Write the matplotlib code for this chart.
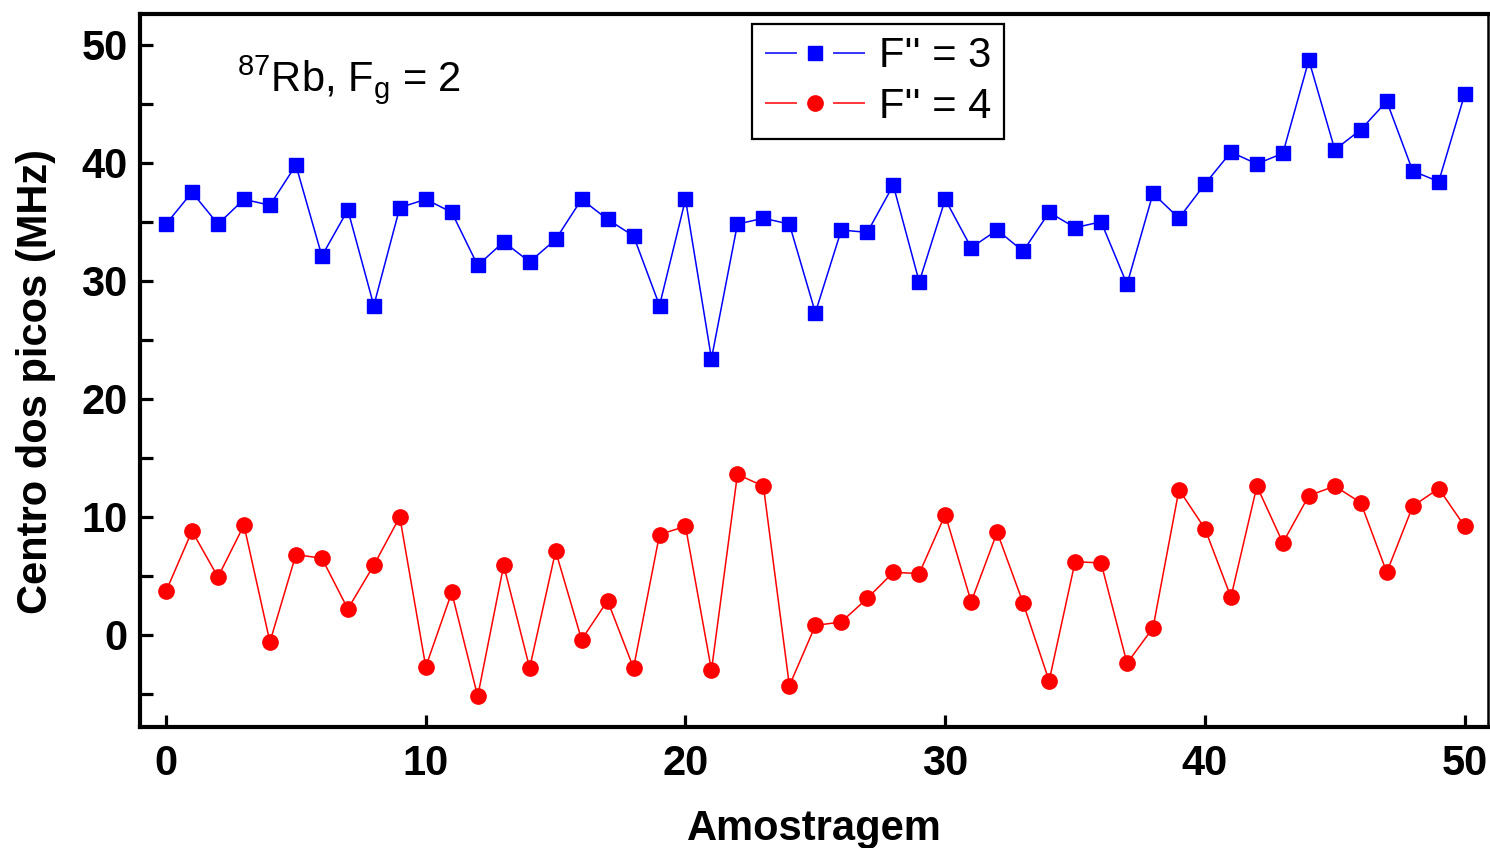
import matplotlib
matplotlib.use("Agg")
import matplotlib.pyplot as plt
from matplotlib.lines import Line2D
from matplotlib.ticker import MultipleLocator

# ----------------------------------------------------------------------------
# Data
# ----------------------------------------------------------------------------
amostragem = list(range(51))

f3 = [34.8, 37.5, 34.8, 36.9, 36.4, 39.8, 32.1, 36.0, 27.9, 36.2,
      36.9, 35.8, 31.3, 33.3, 31.6, 33.5, 36.9, 35.2, 33.8, 27.9,
      36.9, 23.4, 34.8, 35.3, 34.8, 27.3, 34.3, 34.1, 38.1, 29.9,
      36.9, 32.8, 34.3, 32.5, 35.8, 34.5, 35.0, 29.7, 37.4, 35.3,
      38.2, 40.9, 39.9, 40.8, 48.7, 41.1, 42.8, 45.2, 39.3, 38.4,
      45.8]

f4 = [3.7, 8.8, 4.9, 9.3, -0.6, 6.8, 6.5, 2.2, 5.9, 10.0,
      -2.7, 3.6, -5.2, 5.9, -2.8, 7.1, -0.4, 2.9, -2.8, 8.5,
      9.2, -3.0, 13.6, 12.6, -4.3, 0.8, 1.1, 3.1, 5.3, 5.2,
      10.2, 2.8, 8.7, 2.7, -3.9, 6.2, 6.1, -2.4, 0.6, 12.3,
      9.0, 3.2, 12.6, 7.8, 11.8, 12.6, 11.2, 5.3, 10.9, 12.4,
      9.2]

plt.rcParams.update({
    "font.family": ["Liberation Sans", "DejaVu Sans"],
    "mathtext.fontset": "custom",
    "mathtext.rm": "Liberation Sans",
    "mathtext.it": "Liberation Sans:italic",
    "axes.unicode_minus": False,
    "lines.scale_dashes": False,
})

BLUE = "#0000ff"
RED = "#ff0000"

fig = plt.figure(figsize=(14.9, 8.48), dpi=100)
ax = fig.add_axes([0.094, 0.1427, 0.9047, 0.8408])

ax.plot(amostragem, f3, color=BLUE, lw=1.1, marker="s", ms=10.5,
        mec=BLUE, mfc=BLUE)
ax.plot(amostragem, f4, color=RED, lw=1.1, marker="o", ms=11,
        mec=RED, mfc=RED)

ax.set_xlim(-1.0, 50.9)
ax.set_ylim(-7.8, 52.6)
ax.xaxis.set_major_locator(MultipleLocator(10))
ax.yaxis.set_major_locator(MultipleLocator(10))
ax.yaxis.set_minor_locator(MultipleLocator(5))

ax.tick_params(which="both", direction="in", length=9, width=2.3,
               labelsize=30)
ax.tick_params(axis="x", pad=12)
ax.tick_params(axis="y", pad=9)
for lab in ax.get_xticklabels() + ax.get_yticklabels():
    lab.set_fontweight("bold")

for side in ["left", "bottom", "top"]:
    ax.spines[side].set_linewidth(3)
ax.spines["right"].set_linewidth(1.8)

ax.set_xlabel("Amostragem", fontsize=30, fontweight="bold", labelpad=18)
ax.set_ylabel("Centro dos picos (MHz)", fontsize=30, fontweight="bold")
ax.yaxis.set_label_coords(-0.062, 0.485)

ax.text(0.072, 0.892, r"$^{87}$Rb, F$_{\mathrm{g}}$ = 2", transform=ax.transAxes,
        fontsize=30, va="baseline", ha="left")

# legend handles: line broken around the marker, as in the original
dash = (23, 26)
h3 = Line2D([], [], color=BLUE, lw=1.1, dashes=dash, marker="s", ms=10.5,
            mec=BLUE, mfc=BLUE)
h4 = Line2D([], [], color=RED, lw=1.1, dashes=dash, marker="o", ms=11,
            mec=RED, mfc=RED)
leg = ax.legend([h3, h4], ["F'' = 3", "F'' = 4"], loc="upper left",
                bbox_to_anchor=(0.454, 0.986), borderaxespad=0, fontsize=30,
                fancybox=False, edgecolor="black", framealpha=1,
                handlelength=2.4, handletextpad=0.35, borderpad=0.3,
                labelspacing=0.25)
leg.get_frame().set_linewidth(1.6)

fig.savefig("out.png", dpi=100, facecolor="white")
